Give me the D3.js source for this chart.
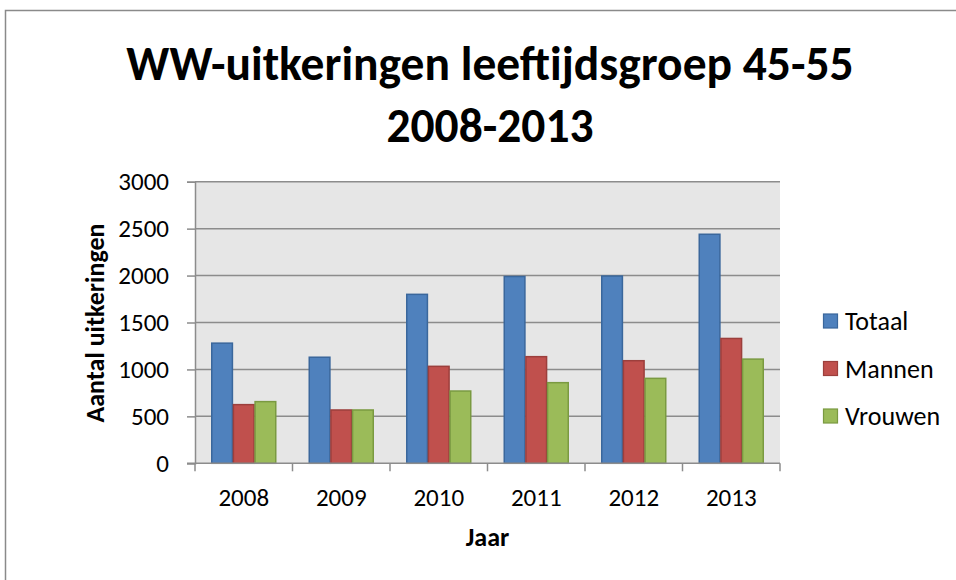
<!DOCTYPE html>
<html>
<head>
<meta charset="utf-8">
<script src="https://cdn.jsdelivr.net/npm/d3@7"></script>
<style>
  html, body { margin: 0; padding: 0; background: #fff; }
  svg { display: block; }
  text { font-family: Calibri, Carlito, Lato, "Open Sans", sans-serif; fill: #000; }
</style>
</head>
<body>
<svg id="chart" width="956" height="580"></svg>
<script>
const years = ["2008", "2009", "2010", "2011", "2012", "2013"];
const seriesNames = ["Totaal", "Mannen", "Vrouwen"];
const totaal  = [1280, 1130, 1800, 1990, 1995, 2440];
const mannen  = [625, 568, 1033, 1136, 1093, 1330];
const vrouwen = [657, 568, 770, 859, 905, 1110];
const yTicks = [0, 500, 1000, 1500, 2000, 2500, 3000];
const fills   = ["#4F81BD", "#C0504D", "#9BBB59"];
const strokes = ["#3A679C", "#9C3F3C", "#7A9A41"];
const titleLines = ["WW-uitkeringen leeftijdsgroep 45-55", "2008-2013"];
const yTitle = "Aantal uitkeringen";
const xTitle = "Jaar";

const values = [totaal, mannen, vrouwen];
const svg = d3.select("#chart");
const FONT = "Calibri, Carlito, Lato, sans-serif";

// outer frame
svg.append("rect").attr("x", 5.5).attr("y", 10.5).attr("width", 960).attr("height", 600)
  .attr("fill", "#fff").attr("stroke", "#8a8a8a").attr("stroke-width", 1.5);

const plot = { left: 195, right: 780, top: 181.7, bottom: 463.3 };

const x0 = d3.scaleBand().domain(years).range([plot.left, plot.right]).paddingInner(0).paddingOuter(0);
const x1 = d3.scaleBand().domain(seriesNames).range([x0.bandwidth() * (0.75 / 4.5), x0.bandwidth() * (3.75 / 4.5)]).padding(0);
const y = d3.scaleLinear().domain([0, 3000]).range([plot.bottom, plot.top]);

// plot background
svg.append("rect").attr("x", plot.left).attr("y", plot.top)
  .attr("width", plot.right - plot.left).attr("height", plot.bottom - plot.top)
  .attr("fill", "#E6E6E6");

// gridlines
svg.append("g").selectAll("line").data(yTicks.filter(d => d > 0)).join("line")
  .attr("x1", plot.left).attr("x2", plot.right)
  .attr("y1", d => y(d)).attr("y2", d => y(d))
  .attr("stroke", "#8c8c8c").attr("stroke-width", 1.5);

// bars
const groups = svg.append("g").selectAll("g").data(years).join("g")
  .attr("transform", d => `translate(${x0(d)},0)`);
groups.selectAll("rect").data((yr, i) => seriesNames.map((s, k) => ({ s, k, v: values[k][i] }))).join("rect")
  .attr("x", d => x1(d.s) + 0.5)
  .attr("width", x1.bandwidth() - 1)
  .attr("y", d => y(d.v))
  .attr("height", d => y(0) - y(d.v))
  .attr("fill", d => fills[d.k])
  .attr("stroke", d => strokes[d.k])
  .attr("stroke-width", 1.5);

// y axis
const yAxis = d3.axisLeft(y).tickValues(yTicks).tickFormat(d3.format("d")).tickSize(8).tickPadding(18);
const gy = svg.append("g").attr("transform", `translate(${plot.left},0)`).call(yAxis);
gy.select(".domain").attr("stroke", "#8c8c8c").attr("stroke-width", 1.5);
gy.selectAll(".tick line").attr("stroke", "#8c8c8c").attr("stroke-width", 1.5);
gy.selectAll(".tick text").attr("font-size", 25).attr("font-family", FONT).attr("fill", "#000");

// x axis
const xAxis = d3.axisBottom(x0).tickSize(0).tickPadding(0);
const gx = svg.append("g").attr("transform", `translate(0,${plot.bottom})`).call(xAxis);
gx.select(".domain").remove();
gx.selectAll(".tick text").attr("font-size", 25).attr("font-family", FONT)
  .attr("fill", "#000").attr("dy", 0).attr("y", 42.5);
// category boundary ticks
const bounds = years.map(d => x0(d)).concat([plot.right]);
svg.append("g").selectAll("line").data(bounds).join("line")
  .attr("x1", d => d).attr("x2", d => d)
  .attr("y1", plot.bottom).attr("y2", plot.bottom + 8)
  .attr("stroke", "#8c8c8c").attr("stroke-width", 1.5);
svg.append("line").attr("x1", plot.left - 8).attr("x2", plot.right)
  .attr("y1", plot.bottom).attr("y2", plot.bottom)
  .attr("stroke", "#8c8c8c").attr("stroke-width", 1.5);

// title
svg.append("g").selectAll("text").data(titleLines).join("text")
  .attr("x", 490).attr("y", (d, i) => 80 + i * 62)
  .attr("text-anchor", "middle").attr("font-weight", "bold").attr("font-size", 47.5)
  .text(d => d);

// axis titles
svg.append("text").attr("transform", "translate(104,323) rotate(-90)")
  .attr("text-anchor", "middle").attr("font-weight", "bold").attr("font-size", 26)
  .text(yTitle);
svg.append("text").attr("x", (plot.left + plot.right) / 2).attr("y", 546)
  .attr("text-anchor", "middle").attr("font-weight", "bold").attr("font-size", 26)
  .text(xTitle);

// legend
const leg = svg.append("g").selectAll("g").data(seriesNames).join("g")
  .attr("transform", (d, i) => `translate(823,${321 + i * 47.5})`);
leg.append("rect").attr("x", 0.5).attr("y", -7).attr("width", 14).attr("height", 14)
  .attr("fill", (d, i) => fills[i]).attr("stroke", (d, i) => strokes[i]).attr("stroke-width", 1.2);
leg.append("text").attr("x", 22).attr("y", 0).attr("dy", "0.36em")
  .attr("font-size", 26).text(d => d);
</script>
</body>
</html>
